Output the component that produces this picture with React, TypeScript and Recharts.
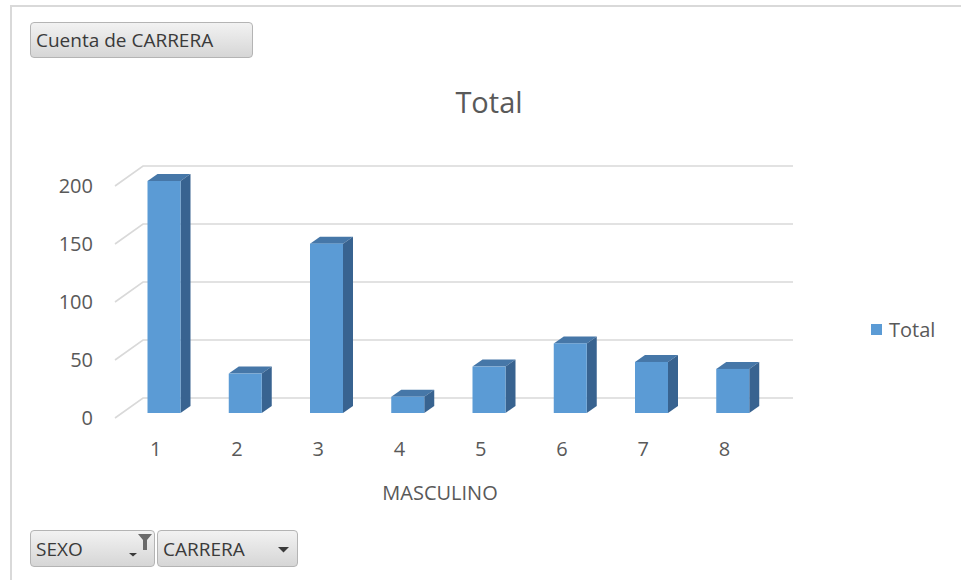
import React from 'react'
import { Bar, BarChart, CartesianGrid, Legend, XAxis, YAxis } from 'recharts'

const categories = ['1', '2', '3', '4', '5', '6', '7', '8']
const totals = [200, 34, 146, 14, 40, 60, 44, 38]
const yTicks = [0, 50, 100, 150, 200]

const data = categories.map((c, i) => ({ name: c, Total: totals[i] }))

const FONT = '"Open Sans", "Segoe UI", sans-serif'
const TEXT = '#595959'
const FRONT = '#5B9BD5'
const TOP = '#4677A8'
const SIDE = '#386390'
const GRID = '#D9D9D9'

// depth of the back wall relative to the front plane
const WALL_DX = 28
const WALL_DY = -20
// bars sit partway into the depth
const BAR_SHIFT_X = 8.5
const BAR_SHIFT_Y = -5
const BAR_DX = 10
const BAR_DY = -7

function Bar3D(props: any) {
  const { x, y, width, height } = props
  if (height == null || width == null) return null
  const fx = x + BAR_SHIFT_X
  const fy = y + BAR_SHIFT_Y
  const r = fx + width
  const b = fy + height
  return (
    <g>
      <polygon
        points={`${fx},${fy} ${fx + BAR_DX},${fy + BAR_DY} ${r + BAR_DX},${fy + BAR_DY} ${r},${fy}`}
        fill={TOP}
      />
      <polygon
        points={`${r},${fy} ${r + BAR_DX},${fy + BAR_DY} ${r + BAR_DX},${b + BAR_DY} ${r},${b}`}
        fill={SIDE}
      />
      <rect x={fx} y={fy} width={width} height={height} fill={FRONT} />
    </g>
  )
}

function WallLine(props: any) {
  const { x1, x2, y1, index } = props
  const d = `M${x1},${y1} L${x1 + WALL_DX},${y1 + WALL_DY} L${x2 + WALL_DX},${y1 + WALL_DY}`
  return <path key={`grid-${index}`} d={d} stroke={GRID} strokeWidth={1.6} fill="none" />
}

function LegendBox() {
  return (
    <div style={{ display: 'flex', alignItems: 'center', fontFamily: FONT, fontSize: 20, color: TEXT }}>
      <span style={{ width: 11, height: 11, background: FRONT, display: 'inline-block', marginRight: 7 }} />
      <span>Total</span>
    </div>
  )
}

const buttonStyle: React.CSSProperties = {
  position: 'absolute',
  boxSizing: 'border-box',
  border: '1px solid #B4B4B4',
  borderRadius: 4,
  background: 'linear-gradient(#F2F2F2, #D6D6D6)',
  fontFamily: FONT,
  fontSize: 19,
  color: '#3A3A3A',
  display: 'flex',
  alignItems: 'center',
  paddingLeft: 5,
}

function Arrow({ left, top }: { left: number; top: number }) {
  return (
    <svg style={{ position: 'absolute', left, top }} width={11} height={6}>
      <polygon points="0,0 11,0 5.5,5.5" fill="#3A3A3A" />
    </svg>
  )
}

export default function App() {
  return (
    <div style={{ position: 'absolute', left: 0, top: 0, width: 961, height: 580, background: '#fff', overflow: 'hidden' }}>
      <div style={{ position: 'absolute', left: 10, top: 5, width: 951, height: 2, background: GRID }} />
      <div style={{ position: 'absolute', left: 10, top: 5, width: 2, height: 575, background: GRID }} />

      <div style={{ position: 'absolute', left: 0, top: 0 }}>
        <BarChart
          width={961}
          height={580}
          data={data}
          margin={{ top: 186, right: 196, bottom: 122, left: 55 }}
        >
          <CartesianGrid vertical={false} horizontal={WallLine} />
          <XAxis
            dataKey="name"
            axisLine={false}
            tickLine={false}
            height={40}
            tickMargin={18}
            tick={{ fill: TEXT, fontSize: 20, fontFamily: FONT }}
            label={{ value: 'MASCULINO', position: 'bottom', offset: 28, fill: TEXT, fontSize: 20, fontFamily: FONT }}
          />
          <YAxis
            width={60}
            domain={[0, 200]}
            ticks={yTicks}
            axisLine={false}
            tickLine={false}
            tickMargin={16}
            tick={{ fill: TEXT, fontSize: 20, fontFamily: FONT }}
          />
          <Legend
            layout="vertical"
            align="center"
            verticalAlign="middle"
            wrapperStyle={{ left: 871, top: 316, width: 90 }}
            content={() => <LegendBox />}
          />
          <Bar dataKey="Total" barSize={33} shape={Bar3D} isAnimationActive={false} />
        </BarChart>
      </div>

      <div
        style={{
          position: 'absolute',
          left: 389,
          top: 82,
          width: 200,
          textAlign: 'center',
          fontFamily: FONT,
          fontSize: 29,
          color: TEXT,
        }}
      >
        Total
      </div>

      <div style={{ ...buttonStyle, left: 30, top: 22, width: 223, height: 36 }}>Cuenta de CARRERA</div>

      <div style={{ ...buttonStyle, left: 30, top: 530, width: 125, height: 37 }}>
        SEXO
        <svg style={{ position: 'absolute', left: 98, top: 2 }} width={24} height={24}>
          <polygon points="9,1 23,1 18,7 18,17 14,17 14,7" fill="#6A6A6A" />
          <polygon points="0,20 8,20 4,23.5" fill="#3A3A3A" />
        </svg>
      </div>
      <div style={{ ...buttonStyle, left: 157, top: 530, width: 141, height: 37 }}>
        CARRERA
        <Arrow left={120} top={16} />
      </div>
    </div>
  )
}
